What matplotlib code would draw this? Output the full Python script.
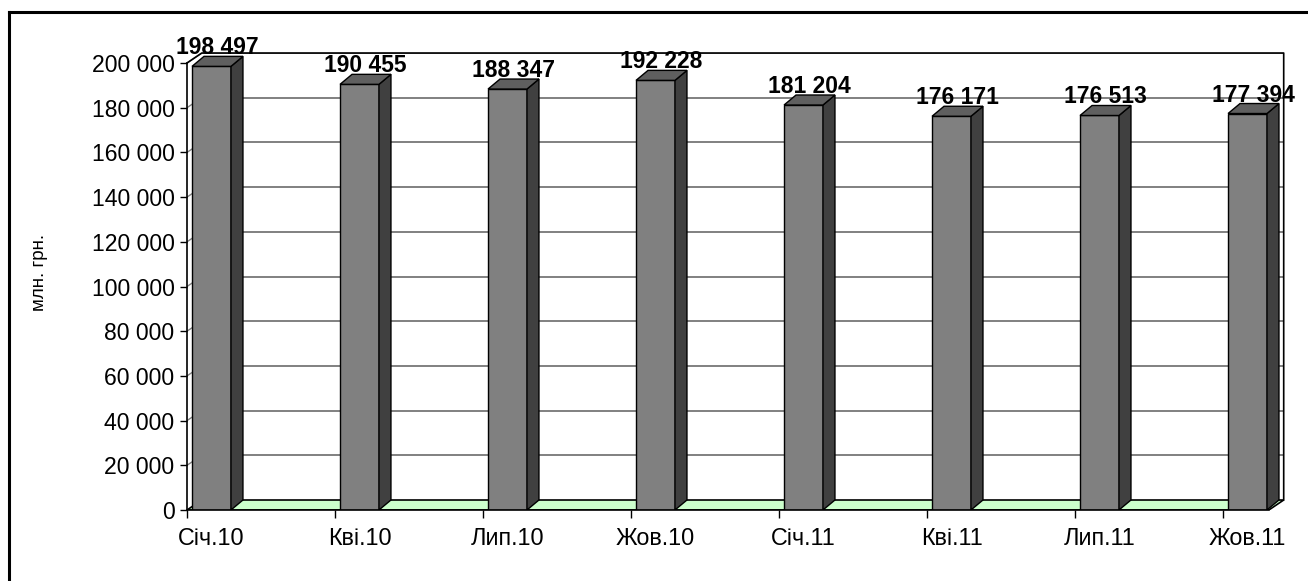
import matplotlib.pyplot as plt
from matplotlib.patches import Polygon
from matplotlib.lines import Line2D
from matplotlib.ticker import FuncFormatter

plt.rcParams['font.family'] = ['Liberation Sans', 'DejaVu Sans']

# Квартальні значення, млн. грн.
months = ["Січ.10", "Кві.10", "Лип.10", "Жов.10", "Січ.11", "Кві.11", "Лип.11", "Жов.11"]
values = [198497, 190455, 188347, 192228, 181204, 176171, 176513, 177394]
y_ticks = list(range(0, 200001, 20000))

# pseudo-3D geometry (category units / value units)
bar_left, bar_right = 0.034, 0.297
bar_dx, bar_dy = 0.081, 4474
wall_dx, wall_dy = 0.1, 4474
x_max = 7.412
y_top = 200000

fig = plt.figure(figsize=(13.08, 5.81), dpi=100)
ax = fig.add_axes([0.14297, 0.12220, 0.83868, 0.78657])
ax.set_xlim(0, x_max)
ax.set_ylim(0, y_top + wall_dy)

floor_right = len(months) - 1 + 0.31

# back wall: gridlines and border
for v in y_ticks[1:]:
    ax.plot([wall_dx, floor_right + wall_dx], [v + wall_dy, v + wall_dy],
            color='#808080', lw=1.4, zorder=1)
    ax.plot([0, wall_dx], [v, v + wall_dy], color='#808080', lw=1.0, zorder=1)
ax.plot([0, wall_dx, floor_right + wall_dx, floor_right + wall_dx],
        [y_top, y_top + wall_dy, y_top + wall_dy, wall_dy],
        color='black', lw=1.2, zorder=2, clip_on=False)

# floor
floor = Polygon([(0, 0), (floor_right, 0), (floor_right + wall_dx, wall_dy), (wall_dx, wall_dy)],
                closed=True, facecolor='#CCFFCC', edgecolor='black', lw=1.2, zorder=2)
ax.add_patch(floor)

# bars
for i, v in enumerate(values):
    x0, x1 = i + bar_left, i + bar_right
    front = Polygon([(x0, 0), (x1, 0), (x1, v), (x0, v)],
                    facecolor='#808080', edgecolor='black', lw=1.0, zorder=3)
    side = Polygon([(x1, 0), (x1 + bar_dx, bar_dy), (x1 + bar_dx, v + bar_dy), (x1, v)],
                   facecolor='#404040', edgecolor='black', lw=1.0, zorder=3)
    top = Polygon([(x0, v), (x1, v), (x1 + bar_dx, v + bar_dy), (x0 + bar_dx, v + bar_dy)],
                  facecolor='#5F5F5F', edgecolor='black', lw=1.0, zorder=3)
    for p in (front, side, top):
        ax.add_patch(p)
    ax.text((x0 + x1 + bar_dx) / 2, v + bar_dy + 900, f"{v:,}".replace(",", " "),
            ha='center', va='baseline', fontsize=16.5, fontweight='bold', zorder=5)

# axes lines and ticks
for s in ('top', 'right'):
    ax.spines[s].set_visible(False)
ax.spines['left'].set_bounds(0, y_top)
ax.spines['bottom'].set_bounds(0, floor_right)
for s in ('left', 'bottom'):
    ax.spines[s].set_linewidth(1.2)
    ax.spines[s].set_zorder(4)

ax.set_yticks(y_ticks)
ax.yaxis.set_major_formatter(FuncFormatter(lambda v, p: f"{int(v):,}".replace(",", " ")))
ax.tick_params(axis='y', length=5, width=1.0, pad=4, labelsize=16.6)

ax.set_xticks([i + (bar_left + bar_right) / 2 for i in range(len(months))])
ax.set_xticklabels(months)
ax.set_xticks(range(len(months)), minor=True)
ax.tick_params(axis='x', which='major', length=0, pad=12, labelsize=16.8)
ax.tick_params(axis='x', which='minor', length=6, width=1.0)

fig.text(40 / 1308, 1 - 272 / 581, "млн. грн.", rotation=90,
         ha='center', va='center', fontsize=13.5)

# outer frame
fig.add_artist(Line2D([9 / 1308, 9 / 1308], [0, 1 - 12 / 581], color='black', lw=2.2))
fig.add_artist(Line2D([9 / 1308, 1], [1 - 12 / 581, 1 - 12 / 581], color='black', lw=2.2))

fig.savefig("out.png", dpi=100)
